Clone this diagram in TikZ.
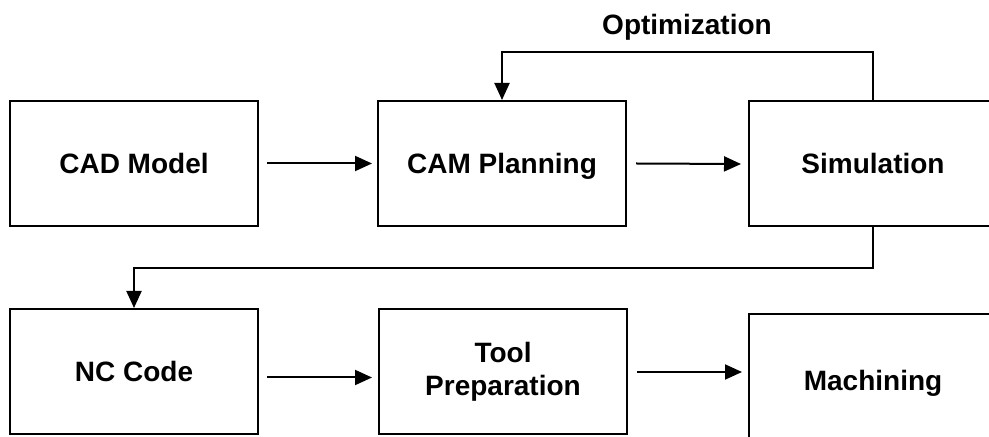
\documentclass[tikz,border=0pt]{standalone}
\usepackage{fontspec}
\setmainfont{Liberation Sans}
\usetikzlibrary{arrows.meta}
\tikzset{
  stage/.style={draw, line width=1pt, minimum width=124pt, minimum height=62.5pt,
    inner sep=0pt, align=center, font=\fontsize{14}{16.5}\selectfont\bfseries},
  oneline/.style={text height=10pt, text depth=0pt},
  flow/.style={line width=1pt, -{Triangle[length=8.5pt,width=7.5pt]}},
  tag/.style={font=\fontsize{14}{16.5}\selectfont\bfseries}
}
\begin{document}
\begin{tikzpicture}[x=0.5pt,y=-0.5pt]
  \fill[white] (0,0) rectangle (989,437);
  \clip (0,0) rectangle (989,437);
  \node[stage, oneline] (cad) at (134,163.5) {CAD Model};
  \node[stage, oneline] (cam) at (502,163.5) {CAM Planning};
  \node[stage, oneline] (sim) at (873,164) {Simulation};
  \node[stage, oneline] (nc) at (134,371.5) {NC Code};
  \node[stage] (tool) at (503,372) {Tool\\Preparation};
  \node[stage, oneline, minimum height=67pt] (mach) at (873,381) {Machining};
  \node[tag] (opt) at (687,27) {Optimization};
  \coordinate (optline) at (0,52);
  \coordinate (nclink) at (0,268);
  \draw[flow] ([xshift=4pt]cad.east) -- ([xshift=-2.5pt]cam.west);
  \draw[flow] ([xshift=4.5pt]cam.east) -- ([xshift=-3.5pt]sim.west);
  \draw[flow] (sim.north) -- (sim.north |- optline) -| (cam.north);
  \draw[flow] (sim.south) -- (sim.south |- nclink) -| (nc.north);
  \draw[flow] ([xshift=4pt,yshift=-3pt]nc.east) -- ([xshift=-3pt,yshift=-3pt]nc.east -| tool.west);
  \draw[flow] ([xshift=4.5pt]tool.east) -- ([xshift=-3pt]tool.east -| mach.west);
\end{tikzpicture}
\end{document}
